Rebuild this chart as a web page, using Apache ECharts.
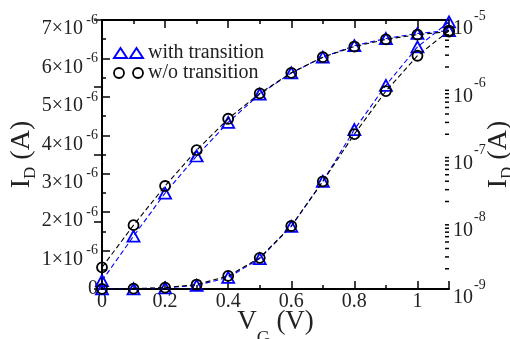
<!DOCTYPE html>
<html>
<head>
<meta charset="utf-8">
<script src="https://cdn.jsdelivr.net/npm/echarts@6/dist/echarts.min.js"></script>
<style>html,body{margin:0;padding:0;background:#fff}#c{width:510px;height:339px}</style>
</head>
<body>
<div id="c"></div>
<script>
// ---- data ----
const vg = [0, 0.1, 0.2, 0.3, 0.4, 0.5, 0.6, 0.7, 0.8, 0.9, 1.0, 1.1];
const idWith = [1.33e-9, 6.1e-9, 2.67e-8, 9.5e-8, 3.0e-7, 7.9e-7, 1.63e-6, 2.8e-6, 4.15e-6, 5.3e-6, 6.3e-6, 6.95e-6];
const idWithout = [2.1e-9, 8.9e-9, 3.4e-8, 1.16e-7, 3.4e-7, 8.1e-7, 1.64e-6, 2.8e-6, 4.03e-6, 5.15e-6, 6.07e-6, 6.72e-6];
const seriesNames = ['with transition', 'w/o transition'];
const logDecades = [-9, -8, -7, -6];
const minorMultipliers = [2, 3, 4, 5, 6, 7, 8, 9];

const FONT = 'Liberation Serif';
const TXT = '#222';
const BLUE = '#0000ff';
const BLACK = '#000000';

const minorLogTicks = [];
logDecades.forEach(e => minorMultipliers.forEach(k => minorLogTicks.push(k * Math.pow(10, e))));

const titleRichY = {
  i: {fontFamily: FONT, fontSize: 28, color: TXT, lineHeight: 28, verticalAlign: 'top'},
  sub: {fontFamily: FONT, fontSize: 17, color: TXT, lineHeight: 17, verticalAlign: 'top', padding: [14, 0, 0, 0]}
};
const titleRichX = {
  i: {fontFamily: FONT, fontSize: 27, color: TXT, lineHeight: 28, verticalAlign: 'top'},
  sub: {fontFamily: FONT, fontSize: 18, color: TXT, lineHeight: 18, verticalAlign: 'top', padding: [22, 0, 0, 0]}
};

const axisLine = {show: true, lineStyle: {color: BLACK, width: 2}};
const tickMajor = {show: true, inside: true, length: 8, lineStyle: {color: BLACK, width: 1.5}};

function xAx(pos, interval, len, labels, withLine) {
  return {
    type: 'value', min: 0, max: 1.1, interval: interval, position: pos,
    axisLine: withLine ? axisLine : {show: false},
    axisTick: {show: true, inside: true, length: len, lineStyle: {color: BLACK, width: 1.5}},
    axisLabel: labels ? {
      show: true, margin: 3, fontFamily: FONT, fontSize: 20, color: TXT,
      formatter: v => (v > 1.05 ? '' : String(Math.round(v * 10) / 10))
    } : {show: false},
    splitLine: {show: false}
  };
}

const xAxes = [
  Object.assign(xAx('bottom', 0.2, 8, true, true), {
    name: '{i|V}{sub|G}{i| (V)}', nameLocation: 'middle', nameGap: 19, nameMoveOverlap: false,
    nameTextStyle: {rich: titleRichX}
  }),
  xAx('bottom', 0.1, 4, false, false),
  xAx('top', 0.2, 8, false, true),
  xAx('top', 0.1, 4, false, false)
];

// main mantissa labels: box top at tick -> text centre a little below tick
const mainLabel = {fontFamily: FONT, fontSize: 20, color: TXT, verticalAlign: 'top', lineHeight: 10, padding: [4, 0, 0, 0]};
// superscript exponent labels: box bottom at tick -> text centre a little above tick
const supLabel = {fontFamily: FONT, fontSize: 14, color: TXT, verticalAlign: 'bottom', lineHeight: 8};

const linAxis = {type: 'value', min: 0, max: 7e-6, interval: 1e-6, position: 'left', splitLine: {show: false}};
const logAxis = {type: 'log', logBase: 10, min: 1e-9, max: 1e-5, position: 'right', splitLine: {show: false}};

const yAxes = [
  Object.assign({}, linAxis, {
    axisLine: axisLine, axisTick: tickMajor,
    minorTick: {show: true, splitNumber: 2, length: 4, lineStyle: {color: BLACK, width: 1.5}},
    axisLabel: Object.assign({}, mainLabel, {
      margin: 19,
      formatter: v => { const n = Math.round(v * 1e6); return n === 0 ? '' : n + '\u00d710'; }
    }),
    name: '{i|I}{sub|D}{i| (A)}', nameLocation: 'middle', nameRotate: 90, nameGap: 66, nameMoveOverlap: false,
    nameTextStyle: {rich: titleRichY}
  }),
  Object.assign({}, logAxis, {
    axisLine: axisLine, axisTick: tickMajor,
    axisLabel: Object.assign({}, mainLabel, {margin: 4, formatter: () => '10'}),
    name: '{i|I}{sub|D}{i| (A)}', nameLocation: 'middle', nameRotate: 90, nameGap: 36, nameMoveOverlap: false,
    nameTextStyle: {rich: titleRichY}
  }),
  // exponent labels for the left axis (and the plain "0")
  Object.assign({}, linAxis, {
    axisLine: {show: false}, axisTick: {show: false},
    axisLabel: {margin: 4, fontFamily: FONT, color: TXT,
      rich: {z: {fontFamily: FONT, fontSize: 20, color: TXT, lineHeight: 20}},
      formatter: v => { const n = Math.round(v * 1e6); return n === 0 ? '{z|0}' : '-6'; },
      fontSize: 14, verticalAlign: 'middle'}
  }),
  // exponent labels for the right axis
  Object.assign({}, logAxis, {
    axisLine: {show: false}, axisTick: {show: false},
    axisLabel: Object.assign({}, supLabel, {margin: 25, formatter: v => String(Math.round(Math.log10(v)))})
  })
];

function pairs(arr) { return vg.map((x, i) => [x, arr[i]]); }
function lineSeries(name, arr, yIdx, color, symbol, size) {
  return {
    type: 'line', name: name, xAxisIndex: 0, yAxisIndex: yIdx,
    data: pairs(arr), symbol: symbol, symbolSize: size, showAllSymbol: true,
    lineStyle: {color: color, width: 1.1, type: [5, 3]},
    itemStyle: {color: 'rgba(0,0,0,0)', borderColor: color, borderWidth: 1.8},
    emphasis: {disabled: true}, z: color === BLACK ? 4 : 3
  };
}

const option = {
  animation: false,
  backgroundColor: '#fff',
  grid: {left: 102, right: 61, top: 20, bottom: 50, containLabel: false, outerBoundsMode: 'none'},
  xAxis: xAxes,
  yAxis: yAxes,
  legend: {
    orient: 'vertical', left: 113, top: 43, padding: 0, itemGap: 0, itemWidth: 29, itemHeight: 10,
    selectedMode: false,
    textStyle: {fontFamily: FONT, fontSize: 20, color: TXT, lineHeight: 20},
    data: [
      {name: seriesNames[0], icon: 'path://M0,10L6.5,0L13,10Z M16,10L22.5,0L29,10Z',
       itemStyle: {color: 'rgba(0,0,0,0)', borderColor: BLUE, borderWidth: 2}},
      {name: seriesNames[1], icon: 'path://M0,5A5,5,0,1,1,10,5A5,5,0,1,1,0,5Z M19,5A5,5,0,1,1,29,5A5,5,0,1,1,19,5Z',
       itemStyle: {color: 'rgba(0,0,0,0)', borderColor: BLACK, borderWidth: 1.8}}
    ]
  },
  series: [
    lineSeries(seriesNames[0], idWith, 0, BLUE, 'triangle', [12, 11]),
    lineSeries(seriesNames[0], idWith, 1, BLUE, 'triangle', [12, 11]),
    lineSeries(seriesNames[1], idWithout, 0, BLACK, 'circle', 10),
    lineSeries(seriesNames[1], idWithout, 1, BLACK, 'circle', 10),
    {
      type: 'custom', xAxisIndex: 0, yAxisIndex: 1, silent: true, clip: false,
      data: minorLogTicks.map(v => [1.1, v]),
      renderItem: function (params, api) {
        const p = api.coord([api.value(0), api.value(1)]);
        return {type: 'line', shape: {x1: p[0] - 4, y1: p[1], x2: p[0], y2: p[1]},
                style: {stroke: BLACK, lineWidth: 1.5}};
      }
    }
  ]
};

echarts.init(document.getElementById('c'), null, {renderer: 'canvas'}).setOption(option);
</script>
</body>
</html>
